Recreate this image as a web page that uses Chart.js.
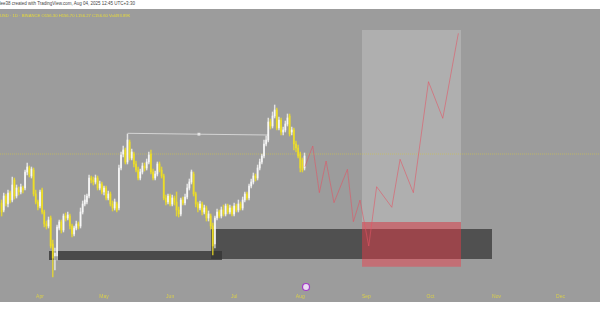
<!DOCTYPE html>
<html>
<head>
<meta charset="utf-8">
<script src="https://cdn.jsdelivr.net/npm/chart.js@4.4.0/dist/chart.umd.min.js"></script>
<style>
body { margin:0; background:#fff; width:600px; height:315px; overflow:hidden; position:relative; font-family:"Liberation Sans", Arial, sans-serif; }
#top { position:absolute; left:-3px; top:1px; font-size:4.5px; color:#444; white-space:nowrap; }
#wrap { position:absolute; left:0; top:9px; width:600px; height:293px; background:#9c9c9c; }
#legend { position:absolute; left:-3px; top:13px; font-size:4.2px; color:#e6da3a; white-space:nowrap; z-index:2; }
</style>
</head>
<body>
<div id="top">idee38 created with TradingView.com, Aug 04, 2025 12:45 UTC+3:30</div>
<div id="wrap"><canvas id="myChart" width="600" height="293"></canvas></div>
<div id="legend">wUSD · 1D · BINANCE O156.30 H156.70 L156.27 C156.60 Vol493.89K</div>
<script>
// bougies journalières, premier jour = jour 73 de l'année (mi-mars)
const firstDay = 73;
const opens = [97,90,104,96,107,100,120,104,110,108,112,112,128,132,124,130,106,98,94,110,
  88,76,74,82,56,44,44,72,78,70,84,82,84,74,66,72,76,74,88,96,
  98,104,122,120,118,122,112,116,108,112,102,106,96,92,96,92,132,146,150,138,
  158,142,146,136,130,122,128,134,132,138,146,128,122,126,136,130,124,102,98,104,
  96,102,98,90,86,100,97,103,112,118,126,106,96,92,96,88,92,82,84,74,
  56,82,88,84,90,86,94,88,92,86,94,90,96,92,100,106,102,114,118,124,
  122,132,138,144,156,160,178,174,184,190,172,180,168,170,176,184,168,170,156,152,
  146,140,132];
const highs = [100,107,106,110,109,123,122,115,113,116,114,130,137,134,133,132,110,100,110,112,
  90,79,83,84,60,52,75,80,80,86,87,88,86,76,74,79,78,92,99,105,
  106,125,124,123,125,124,119,118,114,114,109,108,99,101,98,135,148,154,152,166,
  160,151,148,139,133,131,137,137,141,148,150,131,129,138,138,133,126,105,106,106,
  105,104,108,93,102,103,106,116,121,130,128,108,98,99,98,95,94,89,86,77,
  84,91,90,93,95,96,96,95,94,97,96,100,98,103,108,108,116,121,127,126,
  135,141,146,160,164,182,181,188,195,192,183,182,173,179,186,186,173,172,159,155,
  148,142,147];
const lows = [84,88,94,93,97,98,101,102,105,106,107,110,125,123,122,104,96,90,92,86,
  73,71,72,52,23,30,40,70,67,68,79,80,71,63,64,70,71,72,86,94,
  96,102,117,115,116,110,110,106,105,100,100,94,89,90,88,90,130,143,136,136,
  140,140,133,128,120,120,126,129,130,136,126,120,120,124,128,122,100,95,96,94,
  94,95,84,83,84,95,95,101,110,116,104,93,88,90,85,86,79,79,71,45,
  52,80,82,82,84,84,86,86,84,84,88,88,90,90,98,100,100,112,116,119,
  120,130,136,142,154,158,171,172,182,170,170,165,165,168,174,164,165,150,148,142,
  128,128,130];
const closes = [88,104,97,107,100,115,104,112,108,113,110,128,133,126,131,106,98,93,108,88,
  76,74,80,54,42,47,73,78,70,84,82,85,74,66,72,76,74,88,96,100,
  104,122,120,118,122,112,116,108,112,102,106,96,92,98,90,132,145,150,138,160,
  142,148,136,130,122,128,134,132,138,145,128,122,126,136,130,124,102,98,104,96,
  102,98,90,86,100,97,103,112,118,128,106,96,92,96,88,92,82,86,74,54,
  82,88,84,90,86,94,88,92,86,94,90,96,92,100,106,102,114,118,124,122,
  132,138,144,156,160,178,174,184,190,172,180,168,170,176,182,166,170,156,152,144,
  132,130,144];

// projection (ligne rouge)
const projDays = [215.2,218.85,221.95,225.1,228.8,235.1,237.9,241.0,245.1,248.8,255.9,259.8,266.0,273.1,279.8,287.1];
const projPrices = [133.3,154,107.3,139,97.3,130.7,78.3,100,54,113.3,92.7,140.7,107.3,218.3,181.7,266.7];

// zones : [début, fin, bas, haut]
const baseZone = [95.2, 176.3, 40, 49];
const demandZone = [171.2, 302.9, 41, 71];
const targetZone = [241.95, 288.4, 78, 270];
const stopZone = [241.95, 288.4, 33.3, 78];

// lignes horizontales
const resistLine = [[132.1, 166.7], [165.5, 165.8], [197.9, 165]];
const priceLine = 146;
const eventMark = [215.7, 13];

// axe x
const monthDays = [91, 121, 152, 182, 213, 244, 274, 305, 335];
const monthNames = ['Apr', 'May', 'Jun', 'Jul', 'Aug', 'Sep', 'Oct', 'Nov', 'Dec'];
const xMin = 72.25, xMax = 353.5;

const up = 'rgba(255,255,255,0.72)';
const down = 'rgba(240,224,34,0.8)';

const days = opens.map((o, i) => firstDay + i);
const candleColor = (ctx) => closes[ctx.dataIndex] >= opens[ctx.dataIndex] ? up : down;

function zone(z, color, order) {
    return {
        type: 'line',
        data: [{x: z[0], y: z[3]}, {x: z[1], y: z[3]}],
        fill: {value: z[2]},
        backgroundColor: color,
        borderWidth: 0,
        pointRadius: 0,
        order: order
    };
}

const datasets = [
    zone(targetZone, 'rgba(255,255,255,0.2)', 50),
    zone(demandZone, 'rgba(60,60,60,0.79)', 49),
    zone(baseZone, 'rgba(52,52,52,0.79)', 48),
    zone(stopZone, 'rgba(245,57,71,0.45)', 47),
    {
        type: 'line',
        data: [{x: xMin, y: priceLine}, {x: xMax, y: priceLine}],
        borderColor: 'rgba(212,198,70,0.6)',
        borderWidth: 1,
        borderDash: [1, 1],
        pointRadius: 0,
        order: 40
    },
    {
        type: 'line',
        data: resistLine.map(p => ({x: p[0], y: p[1]})),
        borderColor: '#d4d4d4',
        borderWidth: 1,
        pointRadius: [0, 2, 0],
        pointStyle: 'rect',
        pointBackgroundColor: '#e4e4e4',
        pointBorderWidth: 0,
        order: 30
    },
    {
        type: 'bar',
        data: days.map((d, i) => ({x: d, y: [lows[i], highs[i]]})),
        backgroundColor: candleColor,
        barThickness: 0.8,
        grouped: false,
        order: 20
    },
    {
        type: 'bar',
        data: days.map((d, i) => ({x: d, y: [opens[i], closes[i]]})),
        backgroundColor: candleColor,
        barThickness: 1.2,
        grouped: false,
        order: 19
    },
    {
        type: 'line',
        data: projDays.map((d, i) => ({x: d, y: projPrices[i]})),
        borderColor: 'rgba(225,85,100,0.58)',
        borderWidth: 1,
        pointRadius: 0,
        tension: 0,
        order: 10
    },
    {
        type: 'scatter',
        data: [{x: eventMark[0], y: eventMark[1]}],
        pointRadius: 3.5,
        backgroundColor: '#eadcf2',
        borderColor: '#a33cc8',
        borderWidth: 1.2,
        order: 5
    }
];

const canvas = document.getElementById('myChart');
new Chart(canvas.getContext('2d'), {
    type: 'bar',
    data: {datasets: datasets},
    options: {
        responsive: false,
        animation: false,
        devicePixelRatio: 1,
        // pas de marge automatique (le point violet en ajoutait une)
        layout: {padding: 0, autoPadding: false},
        plugins: {legend: {display: false}, tooltip: {enabled: false}},
        scales: {
            x: {
                type: 'linear',
                min: xMin,
                max: xMax,
                offset: false,
                grid: {display: false, drawTicks: false},
                border: {display: false},
                afterBuildTicks: (s) => { s.ticks = monthDays.map(v => ({value: v})); },
                // hauteur fixe et pas de marge latérale, sinon la zone du graphe se décale
                afterFit: (s) => { s.height = 9; s.paddingLeft = 0; s.paddingRight = 0; },
                ticks: {
                    autoSkip: false,
                    maxRotation: 0,
                    padding: 1,
                    color: '#d9cf4c',
                    font: {size: 5, family: 'Liberation Sans'},
                    callback: (v) => monthNames[monthDays.indexOf(v)]
                }
            },
            y: {display: false, min: 7, max: 291}
        }
    }
});
</script>
</body>
</html>
